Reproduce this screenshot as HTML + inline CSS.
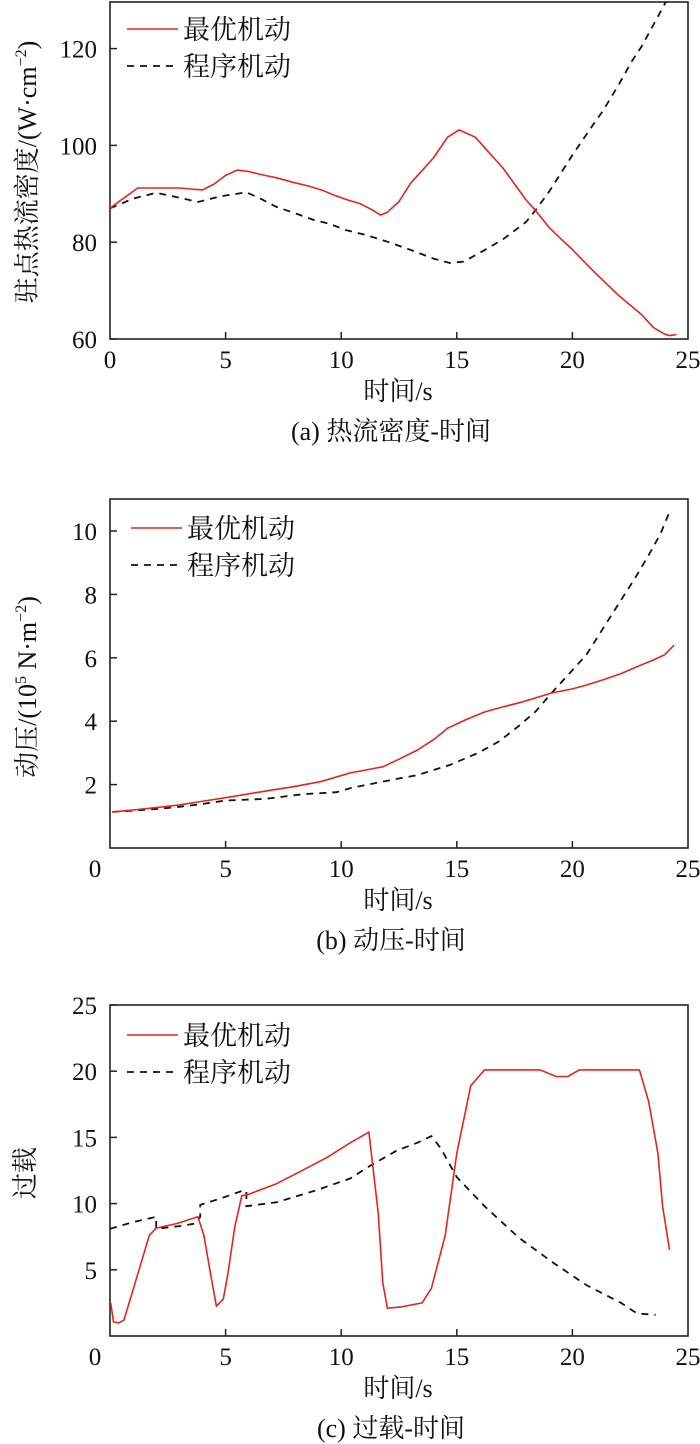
<!DOCTYPE html>
<html><head><meta charset="utf-8">
<style>
html,body{margin:0;padding:0;background:#fff;}
svg{display:block;}
text{font-family:"Liberation Serif","Noto Serif CJK SC","Noto Sans CJK SC",serif;fill:#111;}
.cjk{font-family:"Liberation Serif","Noto Serif CJK SC","Noto Sans CJK SC",serif;}
</style></head>
<body>
<svg id="fig" width="700" height="1444" viewBox="0 0 700 1444" xmlns="http://www.w3.org/2000/svg"></svg>
<script>
// ---------- shared x axis ----------
const xTicks = [0,5,10,15,20,25];

// ---------- chart (a) heat flux ----------
const aTicksY = [60,80,100,120];
const aOptT = [0,0.5,1.2,2,3,3.5,4,4.5,5,5.5,6,6.6,7.2,7.9,8.6,9.2,9.7,10.3,10.8,11.3,11.7,12,12.5,13,13.5,14,14.6,15.1,15.8,16.4,17,17.5,18,18.4,19,19.5,20,20.5,21,21.5,22,22.5,23,23.5,24,24.2,24.5];
const aOptV = [87,88.8,91.2,91.2,91.2,91,90.8,92,93.8,94.9,94.6,93.9,93.3,92.4,91.6,90.7,89.7,88.7,88,86.8,85.6,86.2,88.4,92.2,94.8,97.5,101.7,103.2,101.7,98.5,95.3,92,88.7,86.6,83,80.7,78.5,76,73.6,71.3,69,67,65,62.4,61,60.7,60.9];
const aPrgT = [0,0.5,1,2,3,3.8,4.8,5.9,6.5,7.2,8,8.8,9.5,10.2,11,12,13,14,14.7,15.3,16,17,18,18.4,19,20,21,21.3,22,22.6,23,23.9,24.2];
const aPrgV = [87,88,89,90.2,89.2,88.3,89.5,90.3,89,87.3,86,84.6,83.8,82.5,81.6,80.1,78.4,76.6,75.7,76,77.8,80.6,84.2,86.6,90.5,98,105,107,112.5,117.6,120.5,128.4,131];

// ---------- chart (b) dynamic pressure ----------
const bTicksY = [2,4,6,8,10];
const bOptT = [0.1,1,2.2,3,3.8,5.1,6.5,7.9,9.1,10.4,11.8,12.5,13.3,14,14.6,15.4,16.2,17,17.8,19.1,20,20.6,21.3,22.1,22.8,23.5,24,24.4];
const bOptV = [1.14,1.2,1.29,1.36,1.45,1.6,1.77,1.93,2.09,2.37,2.56,2.8,3.09,3.42,3.78,4.05,4.29,4.45,4.6,4.89,5.02,5.14,5.3,5.5,5.72,5.93,6.1,6.4];
const bPrgT = [0.1,1,2.2,3,3.9,5,6.7,8.4,9.8,10.4,11.5,12.4,13.3,14.7,15.9,16.8,17.6,18.4,19.1,19.8,20.6,21.3,22.1,22.7,23.3,23.8,24.2];
const bPrgV = [1.14,1.18,1.24,1.3,1.38,1.5,1.55,1.7,1.76,1.89,2.05,2.18,2.3,2.62,2.99,3.35,3.8,4.3,4.89,5.45,6.09,6.9,7.82,8.5,9.24,9.9,10.6];

// ---------- chart (c) overload ----------
const cTicksY = [5,10,15,20,25];
const cOptT = [0.03,0.15,0.4,0.6,1.0,1.7,2.0,2.9,3.8,4.06,4.4,4.6,4.9,5.1,5.4,5.7,6.0,7.2,8.2,9.4,10.4,10.8,11.2,11.6,11.8,12.0,12.6,13.5,13.9,14.5,15.0,15.6,16.2,18.6,19.3,19.8,20.3,22.9,23.3,23.7,23.9,24.2];
const cOptV = [2.5,1.06,1.0,1.2,3.5,7.6,8.15,8.5,9.0,7.6,4.2,2.25,2.8,4.7,8.25,10.6,10.7,11.5,12.4,13.5,14.6,15.0,15.4,9.3,4.0,2.1,2.2,2.5,3.6,7.6,13.8,18.9,20.1,20.1,19.6,19.6,20.1,20.1,17.7,13.8,9.8,6.5];
const cPrgT = [0,1,2.0,2.0,3.0,3.7,3.9,3.9,4.8,5.7,5.9,5.9,7.2,8.9,10.4,11.2,12.4,13.3,13.9,14.3,15.0,16.2,17.7,19.2,20.6,22.1,22.8,23.6];
const cPrgV = [8.1,8.6,9.0,8.1,8.3,8.5,9.0,9.9,10.4,10.95,10.95,9.8,10.1,11.0,11.9,12.8,14.0,14.6,15.1,14.2,12.0,9.8,7.4,5.5,3.85,2.5,1.7,1.6];

const NS = 'http://www.w3.org/2000/svg';
const svg = document.getElementById('fig');
function mk(tag, attrs, parent){
  const e = document.createElementNS(NS, tag);
  for (const k in attrs) e.setAttribute(k, attrs[k]);
  (parent||svg).appendChild(e);
  return e;
}

function chart(cfg){
  const g = mk('g', {});
  
  
  const L=110, R=688, T=cfg.top, B=cfg.bottom;
  const xs = t => L + (t-0)/(25-0)*(R-L);
  const ys = v => B - (v-cfg.ymin)/(cfg.ymax-cfg.ymin)*(B-T);
  const clipId = 'clip-'+cfg.name;
  const cp = mk('clipPath', {id: clipId}, g);
  mk('rect', {x:L, y:T, width:R-L, height:B-T}, cp);
  const frame = mk('rect', {x:L, y:T, width:R-L, height:B-T, fill:'none', stroke:'#222', 'stroke-width':1.6}, g);
  
  
  xTicks.forEach((t,i) => {
    if (t>0 && t<25) mk('line', {x1:xs(t), x2:xs(t), y1:B, y2:B-7, stroke:'#222','stroke-width':1.5}, g);
    const lab = mk('text', {x: (i===0 ? xs(t)+cfg.zeroOff : xs(t)), y: B+29, 'font-size':25, 'text-anchor':'middle'}, g);
    lab.textContent = t;
    
    
  });
  cfg.ticksY.forEach(v => {
    mk('line', {x1:L, x2:L+7, y1:ys(v), y2:ys(v), stroke:'#222','stroke-width':1.5}, g);
    const lab = mk('text', {x: L-13, y: ys(v)+9, 'font-size':25, 'text-anchor':'end'}, g);
    lab.textContent = v;
    
    
  });
  const pathOf = (T_, V_) => T_.map((t,i)=>(i?'L':'M')+xs(t).toFixed(1)+' '+ys(V_[i]).toFixed(1)).join(' ');
  const prg = mk('path', {d: pathOf(cfg.prgT,cfg.prgV), fill:'none', stroke:'#111','stroke-width':1.8,'stroke-dasharray':'7 6','clip-path':'url(#'+clipId+')'}, g);
  
  
  const opt = mk('path', {d: pathOf(cfg.optT,cfg.optV), fill:'none', stroke:'#e8231f','stroke-width':1.6,'stroke-linejoin':'round','clip-path':'url(#'+clipId+')'}, g);
  
  
  const lg = mk('g', {}, g);
  
  
  const lx = cfg.legX, ly = cfg.legY;
  mk('line', {x1:lx, x2:lx+51, y1:ly, y2:ly, stroke:'#e8231f','stroke-width':1.6}, lg);
  const t1 = mk('text', {x:lx+56, y:ly+10, 'font-size':27, class:'cjk'}, lg);
  t1.textContent = '最优机动';
  
  
  mk('line', {x1:lx, x2:lx+51, y1:ly+37, y2:ly+37, stroke:'#111','stroke-width':1.8,'stroke-dasharray':'7 6'}, lg);
  const t2 = mk('text', {x:lx+56, y:ly+47, 'font-size':27, class:'cjk'}, lg);
  t2.textContent = '程序机动';
  
  
  const yt = mk('text', {x:0, y:0, 'font-size':26, 'text-anchor':'middle', transform:'translate('+(cfg.ytX)+','+cfg.ytY+') rotate(-90)'}, g);
  yt.innerHTML = cfg.ytitle;
  
  
  const xt = mk('text', {x:398, y:B+61, 'font-size':26, 'text-anchor':'middle'}, g);
  xt.textContent = '时间/s';
  
  
  const cap = mk('text', {x:391, y:B+101, 'font-size':26, 'text-anchor':'middle'}, g);
  cap.textContent = cfg.caption;
  
  
}

chart({name:'heat-flux-chart', top:2, bottom:339, ymin:60, ymax:60+337/4.84, zeroOff:0,
  ticksY:aTicksY, optT:aOptT, optV:aOptV, prgT:aPrgT, prgV:aPrgV,
  legX:127, legY:29, ytX:36, ytY:172,
  ytitle:'驻点热流密度/(W·cm<tspan dy="-10" font-size="16">−2</tspan><tspan dy="10">)</tspan>',
  caption:'(a) 热流密度-时间'});
chart({name:'dynamic-pressure-chart', top:499, bottom:848, ymin:0, ymax:349/31.7, zeroOff:-15,
  ticksY:bTicksY, optT:bOptT, optV:bOptV, prgT:bPrgT, prgV:bPrgV,
  legX:131, legY:528, ytX:36, ytY:687,
  ytitle:'动压/(10<tspan dy="-10" font-size="16">5</tspan><tspan dy="10"> N·m</tspan><tspan dy="-10" font-size="16">−2</tspan><tspan dy="10">)</tspan>',
  caption:'(b) 动压-时间'});
chart({name:'overload-chart', top:1005, bottom:1336, ymin:0, ymax:25, zeroOff:-15,
  ticksY:cTicksY, optT:cOptT, optV:cOptV, prgT:cPrgT, prgV:cPrgV,
  legX:127, legY:1035, ytX:34, ytY:1173,
  ytitle:'过载',
  caption:'(c) 过载-时间'});
</script>
</body></html>
